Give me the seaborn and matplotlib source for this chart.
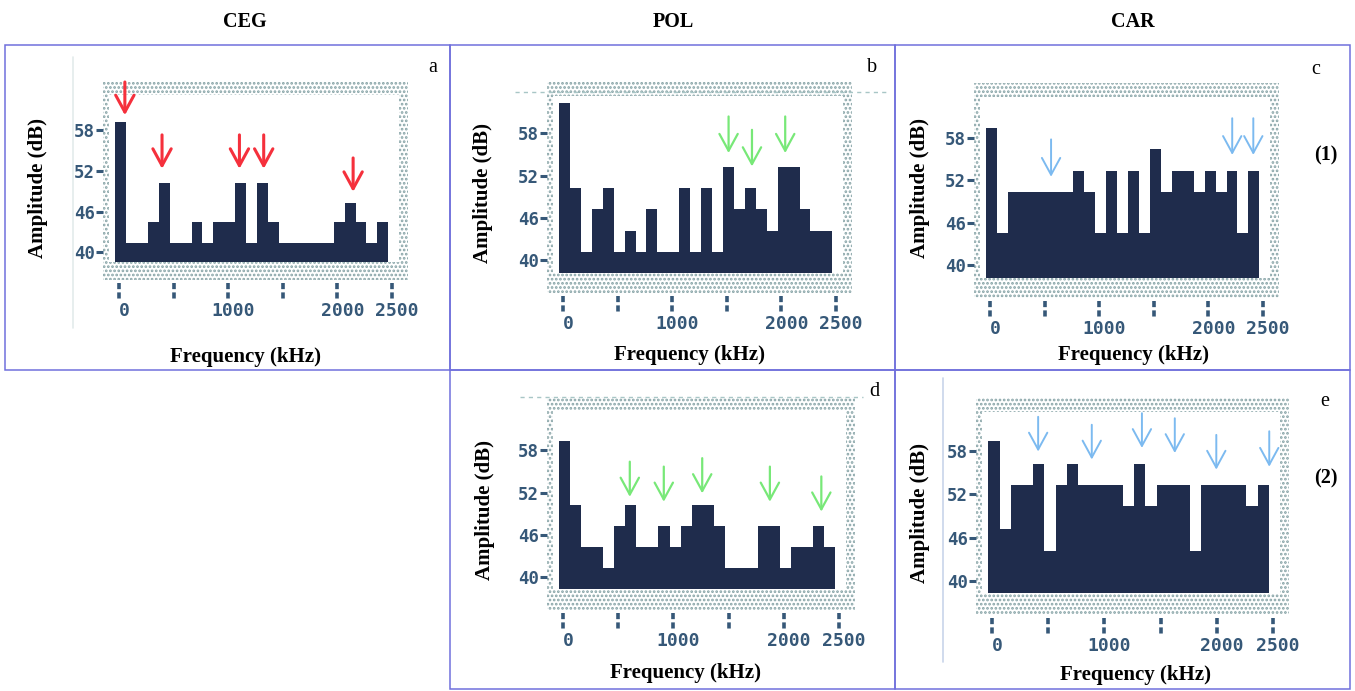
import numpy as np
import pandas as pd
import seaborn as sns
from matplotlib import pyplot as plt
from matplotlib.patches import Rectangle
from matplotlib.lines import Line2D
import matplotlib.transforms as mtrans

sns.set_theme(style="white")
plt.rcParams['font.family'] = ['DejaVu Sans']
plt.rcParams['text.color'] = 'black'
plt.rcParams['hatch.linewidth'] = 1.3

# Spectra: 25 frequency bins of 100 kHz, amplitude in dB
freq_khz = np.arange(15, 2500, 100)

ceg_amp = [59.2, 41.4, 41.4, 44.4, 50.2, 41.4, 41.4, 44.4, 41.4, 44.4, 44.4, 50.2, 41.4,
           50.2, 44.4, 41.4, 41.4, 41.4, 41.4, 41.4, 44.4, 47.3, 44.4, 41.4, 44.4]
pol1_amp = [62.3, 50.2, 41.1, 47.2, 50.2, 41.1, 44.1, 41.1, 47.2, 41.1, 41.1, 50.2, 41.1,
            50.2, 41.1, 53.2, 47.2, 50.2, 47.2, 44.1, 53.2, 53.2, 47.2, 44.1, 44.1]
car1_amp = [59.4, 44.5, 50.3, 50.3, 50.3, 50.3, 50.3, 50.3, 53.3, 50.3, 44.5, 53.3, 44.5,
            53.3, 44.5, 56.4, 50.3, 53.3, 53.3, 50.3, 53.3, 50.3, 53.3, 44.5, 53.3]
pol2_amp = [59.3, 50.3, 44.3, 44.3, 41.3, 47.3, 50.3, 44.3, 44.3, 47.3, 44.3, 47.3, 50.3,
            50.3, 47.3, 41.3, 41.3, 41.3, 47.3, 47.3, 41.3, 44.3, 44.3, 47.3, 44.3]
car2_amp = [59.3, 47.2, 53.3, 53.3, 56.2, 44.2, 53.3, 56.2, 53.3, 53.3, 53.3, 53.3, 50.4,
            56.2, 50.4, 53.3, 53.3, 53.3, 44.2, 53.3, 53.3, 53.3, 53.3, 50.4, 53.3]

# Arrows marking peaks: frequency, tip (dB), tail (dB)
ceg_arrows = ([55, 395, 1103, 1325, 2143], [60.2, 52.3, 52.3, 52.3, 48.9], [65.1, 57.3, 57.3, 57.3, 53.9])
pol1_arrows = ([1516, 1730, 2034], [55.2, 53.3, 55.2], [60.4, 58.5, 60.4])
car1_arrows = ([560, 2217, 2410], [52.5, 55.6, 55.6], [57.8, 60.8, 60.8])
pol2_arrows = ([605, 913, 1261, 1874, 2340], [51.4, 50.7, 51.9, 50.7, 49.3], [56.4, 55.7, 56.9, 55.7, 54.3])
car2_arrows = ([409, 887, 1334, 1627, 1997, 2469], [57.9, 56.8, 58.4, 57.7, 55.4, 55.8],
               [62.7, 61.6, 63.2, 62.5, 60.2, 60.7])

ytick_pos = [40, 46, 52, 58]
ytick_lab = ["40", "46", "52", "58"]
xtick_pos = [0, 500, 1000, 1500, 2000, 2500]
xtick_lab = ["0", "", "1000", "", "2000", "2500"]

col_titles = ["CEG", "POL", "CAR"]

W, H = 1355, 691
bar_color = "#1f2c4c"
tick_color = "#365878"
stipple = "#86a3a6"
border = "#7070dc"
serif = "Liberation Serif"


def fig_rect(x0, y0, x1, y1):
    return [x0 / W, 1 - y1 / H, (x1 - x0) / W, (y1 - y0) / H]


def fpt(x, y):
    return x / W, 1 - y / H


fig = plt.figure(figsize=(13.55, 6.91), dpi=100)

# Panel boxes
for (x0, y0, x1, y1) in [(5, 45, 450, 370), (450, 45, 895, 370), (895, 45, 1350, 370),
                         (450, 370, 895, 689), (895, 370, 1350, 689)]:
    fig.add_artist(Rectangle(fpt(x0, y1), (x1 - x0) / W, (y1 - y0) / H, transform=fig.transFigure,
                             facecolor="none", edgecolor=border, lw=1.1))

# faint scan edges from the original image
fig.add_artist(Line2D([73 / W, 73 / W], [1 - 57 / H, 1 - 328 / H], transform=fig.transFigure, color="#e3ebeb", lw=1.2))
fig.add_artist(Line2D([943 / W, 943 / W], [1 - 378 / H, 1 - 662 / H], transform=fig.transFigure, color="#c8d4ea", lw=1.2))
fig.add_artist(Line2D([515 / W, 887 / W], [1 - 91.7 / H] * 2, transform=fig.transFigure, color="#a8c6c6", lw=1, ls=(0, (3, 3))))
fig.add_artist(Line2D([520 / W, 863 / W], [1 - 396.7 / H] * 2, transform=fig.transFigure, color="#a8c6c6", lw=1, ls=(0, (3, 3))))

panels = [
    dict(amp=ceg_amp, arrows=ceg_arrows, arrow_color="#f5303c", arrow_lw=2.2, frame=(103, 82, 408, 280),
         ylim=(35.9, 65.1), base=38.6, ylab=(38, 188), xlab=(245, 357), letter=("a", 433, 68)),
    dict(amp=pol1_amp, arrows=pol1_arrows, arrow_color="#78e878", arrow_lw=1.6, frame=(547, 82, 852, 293),
         ylim=(35.3, 65.3), base=38.1, ylab=(483, 193), xlab=(689, 355), letter=("b", 872, 67)),
    dict(amp=car1_amp, arrows=car1_arrows, arrow_color="#7cbaf0", arrow_lw=1.4, frame=(974, 83, 1279, 298),
         ylim=(35.3, 65.8), base=38.2, ylab=(920, 188), xlab=(1133, 355), letter=("c", 1316, 70)),
    dict(amp=pol2_amp, arrows=pol2_arrows, arrow_color="#78e878", arrow_lw=1.6, frame=(547, 397, 855, 610),
         ylim=(35.3, 65.6), base=38.3, ylab=(485, 510), xlab=(685, 673), letter=("d", 874, 392)),
    dict(amp=car2_amp, arrows=car2_arrows, arrow_color="#7cbaf0", arrow_lw=1.4, frame=(976, 398, 1289, 615),
         ylim=(35.3, 65.3), base=38.3, ylab=(920, 513), xlab=(1135, 675), letter=("e", 1325, 402)),
]

for p in panels:
    x0, y0, x1, y1 = p['frame']
    w, h = x1 - x0, y1 - y0
    ax = fig.add_axes(fig_rect(x0, y0, x1, y1))
    df = pd.DataFrame({'freq': freq_khz, 'amp': p['amp']})
    sns.barplot(data=df, x='freq', y='amp', native_scale=True, width=1, color=bar_color,
                saturation=1, errorbar=None, linewidth=0, zorder=2, ax=ax)
    ax.set_xlim(-145, 2645)
    ax.set_ylim(*p['ylim'])
    base_frac = (p['base'] - p['ylim'][0]) / (p['ylim'][1] - p['ylim'][0])

    # stippled frame around the plotting area
    ax.add_patch(Rectangle((0, 0), 1, 1, transform=ax.transAxes, facecolor="white",
                           edgecolor=stipple, hatch="....", lw=0, zorder=0.5))
    ax.add_patch(Rectangle((0.02, base_frac), 0.95, 0.935 - base_frac, transform=ax.transAxes,
                           facecolor="white", lw=0, zorder=0.6))
    ax.add_patch(Rectangle((0, 0), 1, base_frac, transform=ax.transAxes, facecolor="white",
                           edgecolor=stipple, hatch="....", lw=0, zorder=3))

    for s in ax.spines.values():
        s.set_visible(False)
    ax.grid(False)
    ax.set_yticks(ytick_pos)
    ax.set_yticklabels(ytick_lab)
    ax.set_xticks(xtick_pos)
    ax.set_xticklabels(xtick_lab)
    ax.tick_params(axis='y', left=True, length=5, width=2.2, color=tick_color, labelcolor=tick_color,
                   pad=1, labelsize=12.5)
    ax.tick_params(axis='x', bottom=False, length=0, pad=16, labelcolor=tick_color, labelsize=13)
    shift = mtrans.ScaledTranslation(5 / 100, 0, fig.dpi_scale_trans)
    for lbl in ax.get_xticklabels():
        lbl.set_transform(lbl.get_transform() + shift)
    for lbl in ax.get_xticklabels() + ax.get_yticklabels():
        lbl.set_fontfamily('DejaVu Sans Mono')
        lbl.set_fontweight('bold')

    # broken tick marks under the frame
    ax.vlines(xtick_pos, -3 / h, -20 / h, transform=ax.get_xaxis_transform(), colors=tick_color,
              linewidth=2.6, linestyles=(0, (1.7, 0.9)), clip_on=False)

    # peak arrows
    xs, tips, tails = p['arrows']
    for x, tip, tail in zip(xs, tips, tails):
        ax.annotate('', xy=(x, tip), xytext=(x, tail), annotation_clip=False, zorder=4,
                    arrowprops=dict(arrowstyle='->,head_length=0.55,head_width=0.3', color=p['arrow_color'],
                                    lw=p['arrow_lw'], shrinkA=0, shrinkB=0, mutation_scale=22))

    ax.set_ylabel("Amplitude (dB)", family=serif, weight='bold', size=15, color='black')
    ax.yaxis.set_label_coords((p['ylab'][0] - x0) / w, (y1 - p['ylab'][1]) / h)
    ax.yaxis.label.set_verticalalignment('center')
    ax.set_xlabel("Frequency (kHz)", family=serif, weight='bold', size=15, color='black')
    ax.xaxis.set_label_coords((p['xlab'][0] - x0) / w, (y1 - p['xlab'][1]) / h)
    ax.xaxis.label.set_verticalalignment('center')

    letter, lx, ly = p['letter']
    fig.text(*fpt(lx, ly), letter, ha='center', va='center', family=serif, size=14.5, color='black')

# column headers and row tags
for t, cx in zip(col_titles, [245, 673, 1133]):
    fig.text(*fpt(cx, 22), t, ha='center', va='center', family=serif, weight='bold', size=14.5, color='black')
fig.text(*fpt(1326, 155), "(1)", ha='center', va='center', family=serif, weight='bold', size=14.5, color='black')
fig.text(*fpt(1326, 478), "(2)", ha='center', va='center', family=serif, weight='bold', size=14.5, color='black')

plt.savefig("out.png", dpi=100)
